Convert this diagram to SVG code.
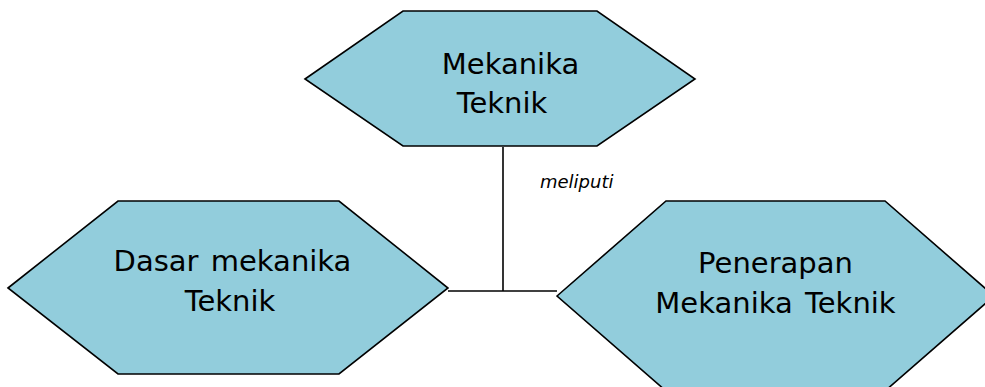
<svg xmlns="http://www.w3.org/2000/svg" width="985" height="387" viewBox="0 0 985 387">
<style>
.hex{fill:#92CDDC;stroke:#000;stroke-width:1.6;stroke-linejoin:miter}
.t{font-family:"DejaVu Sans",Verdana,sans-serif;font-size:29px;word-spacing:3px;fill:#000;text-anchor:middle}
.lbl{font-family:"DejaVu Sans",Verdana,sans-serif;font-size:18px;font-style:italic;fill:#000}
.c{stroke:#000;stroke-width:1.6;fill:none}
</style>
<rect width="985" height="387" fill="#fff"/>
<g id="connectors">
<line class="c" x1="503" y1="147" x2="503" y2="291"/>
<line class="c" x1="448" y1="291" x2="557" y2="291"/>
<text class="lbl" x="540" y="188">meliputi</text>
</g>
<g id="node-top">
<polygon class="hex" points="305,79 403,11 597,11 695,79 597,146 403,146"/>
<text class="t" x="510.5" y="74">Mekanika</text>
<text class="t" x="502" y="113">Teknik</text>
</g>
<g id="node-left">
<polygon class="hex" points="8,288 118,201 339,201 448,288 339,374 118,374"/>
<text class="t" x="232.5" y="271">Dasar mekanika</text>
<text class="t" x="230" y="311">Teknik</text>
</g>
<g id="node-right">
<polygon class="hex" points="557,296 666,201 885,201 994,296 885,391 666,391"/>
<text class="t" x="775.5" y="273">Penerapan</text>
<text class="t" x="775.5" y="313">Mekanika Teknik</text>
</g>
</svg>
